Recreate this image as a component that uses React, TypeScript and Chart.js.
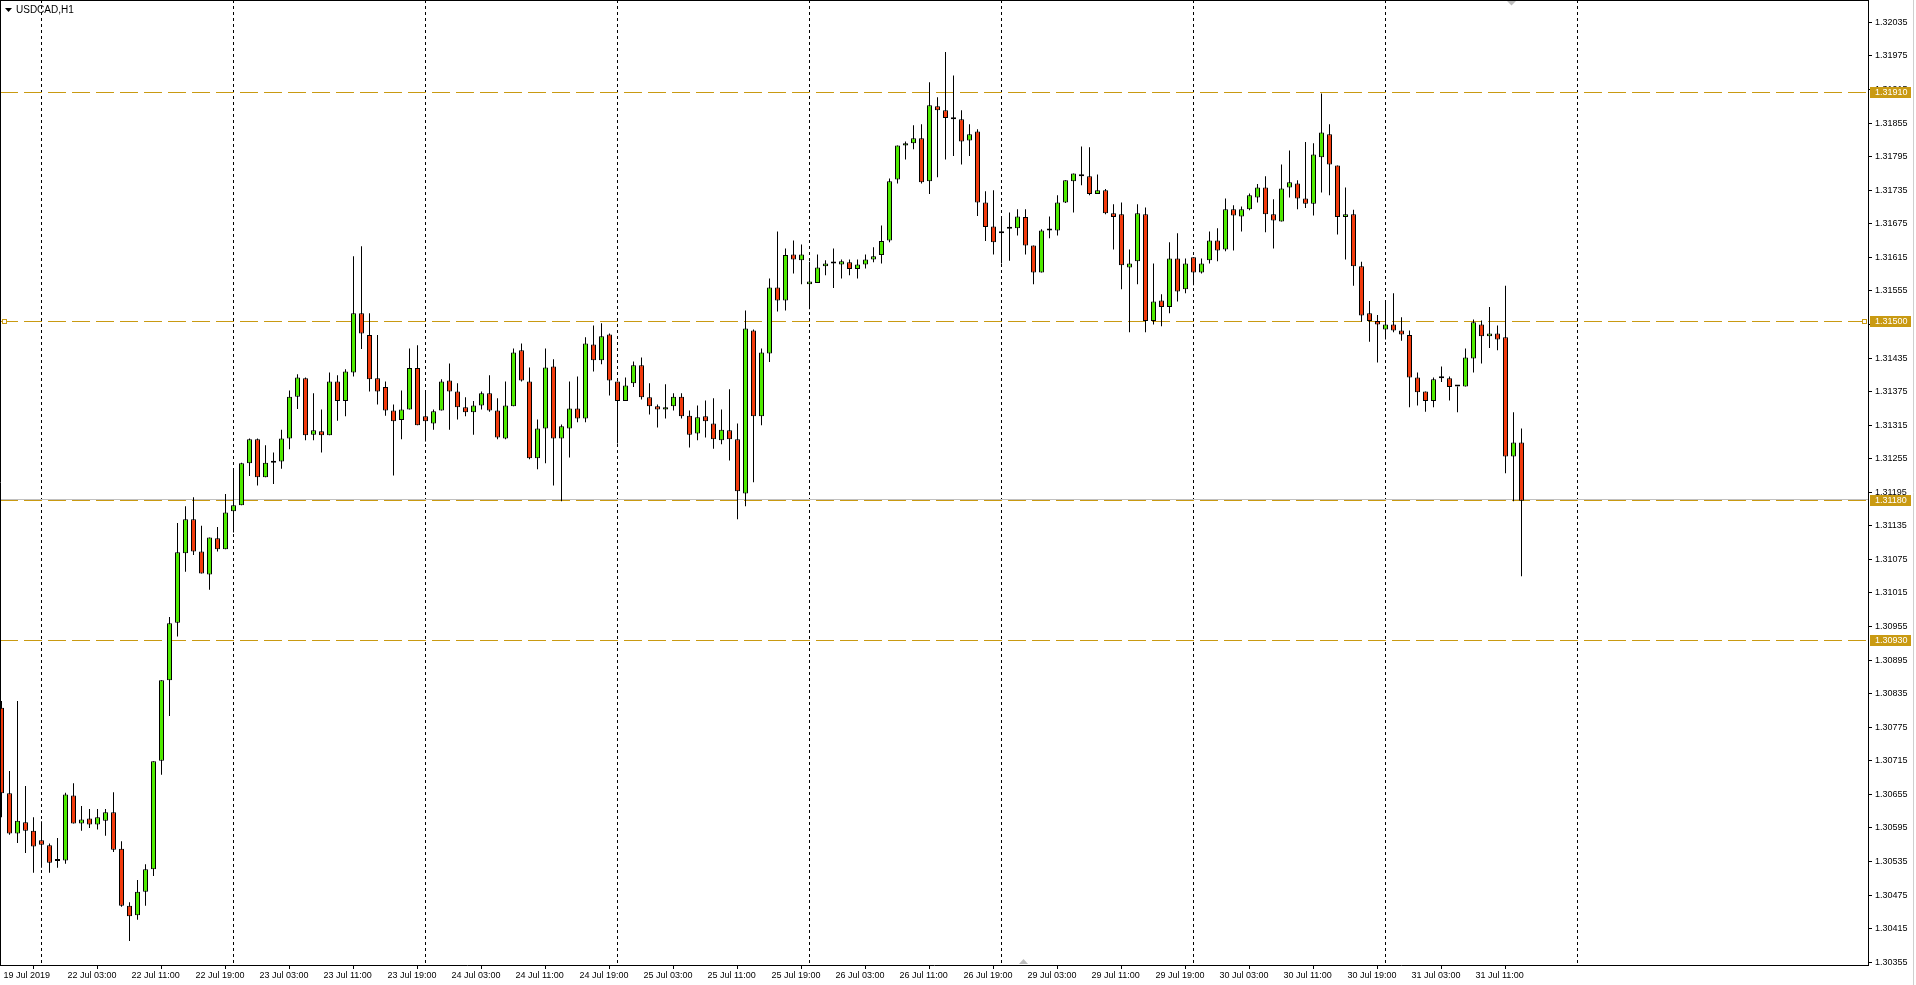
import React, { useEffect, useRef } from "react";
import { Chart, registerables } from "chart.js";

Chart.register(...registerables);

const symbolTitle = "USDCAD,H1";

const xTickLabels = [
  "19 Jul 2019", "22 Jul 03:00", "22 Jul 11:00", "22 Jul 19:00", "23 Jul 03:00", "23 Jul 11:00",
  "23 Jul 19:00", "24 Jul 03:00", "24 Jul 11:00", "24 Jul 19:00", "25 Jul 03:00", "25 Jul 11:00",
  "25 Jul 19:00", "26 Jul 03:00", "26 Jul 11:00", "26 Jul 19:00", "29 Jul 03:00", "29 Jul 11:00",
  "29 Jul 19:00", "30 Jul 03:00", "30 Jul 11:00", "30 Jul 19:00", "31 Jul 03:00", "31 Jul 11:00",
];
const barsPerLabel = 8;

// bar indices where a new trading day starts (dotted separators)
const daySeparatorBars = [5, 29, 53, 77, 101, 125, 149, 173, 197];

const yTickValues = [
  1.30355, 1.30415, 1.30475, 1.30535, 1.30595, 1.30655, 1.30715, 1.30775, 1.30835, 1.30895,
  1.30955, 1.31015, 1.31075, 1.31135, 1.31195, 1.31255, 1.31315, 1.31375, 1.31435, 1.31495,
  1.31555, 1.31615, 1.31675, 1.31735, 1.31795, 1.31855, 1.31915, 1.31975, 1.32035,
];

const levelPrices = [1.3191, 1.315, 1.3118, 1.3093];
const selectedLevel = 1.315;

const opens = [
  1.30810, 1.30657, 1.30585, 1.30605, 1.30590, 1.30573, 1.30564, 1.30536, 1.30537, 1.30653,
  1.30603, 1.30612, 1.30601, 1.30608, 1.30623, 1.30558, 1.30456, 1.30439, 1.30481, 1.30521,
  1.30715, 1.30859, 1.30962, 1.31086, 1.31147, 1.31089, 1.31048, 1.31113, 1.31093, 1.31161,
  1.31172, 1.31247, 1.31290, 1.31222, 1.31248, 1.31250, 1.31291, 1.31366, 1.31399, 1.31298,
  1.31304, 1.31297, 1.31393, 1.31358, 1.31409, 1.31515, 1.31476, 1.31399, 1.31383, 1.31341,
  1.31324, 1.31343, 1.31417, 1.31331, 1.31318, 1.31341, 1.31395, 1.31375, 1.31347, 1.31338,
  1.31350, 1.31372, 1.31341, 1.31291, 1.31349, 1.31449, 1.31393, 1.31256, 1.31309, 1.31420,
  1.31291, 1.31309, 1.31345, 1.31327, 1.31459, 1.31431, 1.31477, 1.31393, 1.31358, 1.31390,
  1.31422, 1.31365, 1.31349, 1.31343, 1.31349, 1.31366, 1.31332, 1.31300, 1.31331, 1.31318,
  1.31288, 1.31306, 1.31290, 1.31193, 1.31484, 1.31331, 1.31443, 1.31561, 1.31538, 1.31620,
  1.31610, 1.31567, 1.31569, 1.31599, 1.31604, 1.31602, 1.31606, 1.31594, 1.31602, 1.31611,
  1.31619, 1.31645, 1.31754, 1.31815, 1.31819, 1.31828, 1.31751, 1.31885, 1.31878, 1.31862,
  1.31862, 1.31824, 1.31840, 1.31713, 1.31670, 1.31658, 1.31666, 1.31667, 1.31687, 1.31636,
  1.31588, 1.31663, 1.31663, 1.31713, 1.31751, 1.31763, 1.31760, 1.31728, 1.31735, 1.31694,
  1.31692, 1.31597, 1.31608, 1.31692, 1.31501, 1.31538, 1.31526, 1.31613, 1.31558, 1.31615,
  1.31588, 1.31610, 1.31645, 1.31629, 1.31701, 1.31688, 1.31701, 1.31722, 1.31740, 1.31692,
  1.31679, 1.31740, 1.31747, 1.31720, 1.31711, 1.31794, 1.31835, 1.31779, 1.31687, 1.31692,
  1.31599, 1.31515, 1.31501, 1.31486, 1.31495, 1.31484, 1.31476, 1.31400, 1.31375, 1.31358,
  1.31399, 1.31399, 1.31384, 1.31384, 1.31434, 1.31495, 1.31474, 1.31479, 1.31472, 1.31259,
  1.31284,
];

const highs = [
  1.30822, 1.30697, 1.30822, 1.30670, 1.30614, 1.30607, 1.30567, 1.30577, 1.30658, 1.30675,
  1.30634, 1.30629, 1.30629, 1.30629, 1.30659, 1.30571, 1.30462, 1.30502, 1.30530, 1.30714,
  1.30859, 1.30972, 1.31140, 1.31170, 1.31186, 1.31135, 1.31114, 1.31133, 1.31192, 1.31236,
  1.31248, 1.31291, 1.31291, 1.31279, 1.31266, 1.31307, 1.31377, 1.31406, 1.31400, 1.31372,
  1.31343, 1.31409, 1.31404, 1.31415, 1.31617, 1.31635, 1.31515, 1.31476, 1.31393, 1.31352,
  1.31377, 1.31452, 1.31458, 1.31375, 1.31343, 1.31397, 1.31425, 1.31390, 1.31365, 1.31358,
  1.31375, 1.31404, 1.31363, 1.31393, 1.31452, 1.31461, 1.31418, 1.31325, 1.31452, 1.31433,
  1.31316, 1.31393, 1.31402, 1.31472, 1.31493, 1.31497, 1.31479, 1.31393, 1.31400, 1.31429,
  1.31436, 1.31390, 1.31352, 1.31388, 1.31372, 1.31372, 1.31341, 1.31350, 1.31359, 1.31363,
  1.31343, 1.31379, 1.31318, 1.31520, 1.31486, 1.31452, 1.31577, 1.31661, 1.31631, 1.31645,
  1.31638, 1.31607, 1.31620, 1.31610, 1.31631, 1.31611, 1.31611, 1.31611, 1.31620, 1.31633,
  1.31672, 1.31756, 1.31815, 1.31822, 1.31851, 1.31853, 1.31928, 1.31901, 1.31982, 1.31940,
  1.31878, 1.31853, 1.31844, 1.31733, 1.31735, 1.31687, 1.31695, 1.31701, 1.31701, 1.31636,
  1.31665, 1.31688, 1.31726, 1.31753, 1.31765, 1.31813, 1.31812, 1.31763, 1.31737, 1.31710,
  1.31713, 1.31629, 1.31710, 1.31704, 1.31604, 1.31549, 1.31642, 1.31658, 1.31613, 1.31615,
  1.31613, 1.31661, 1.31667, 1.31720, 1.31708, 1.31706, 1.31729, 1.31746, 1.31760, 1.31719,
  1.31781, 1.31806, 1.31753, 1.31821, 1.31819, 1.31908, 1.31853, 1.31779, 1.31740, 1.31700,
  1.31607, 1.31537, 1.31512, 1.31536, 1.31551, 1.31508, 1.31484, 1.31409, 1.31375, 1.31400,
  1.31420, 1.31402, 1.31384, 1.31452, 1.31504, 1.31502, 1.31526, 1.31493, 1.31564, 1.31338,
  1.31309,
];

const lows = [
  1.30614, 1.30583, 1.30568, 1.30550, 1.30515, 1.30524, 1.30515, 1.30524, 1.30531, 1.30603,
  1.30590, 1.30595, 1.30592, 1.30581, 1.30552, 1.30454, 1.30393, 1.30431, 1.30456, 1.30509,
  1.30690, 1.30795, 1.30937, 1.31053, 1.31083, 1.31050, 1.31021, 1.31089, 1.31093, 1.31123,
  1.31172, 1.31224, 1.31207, 1.31222, 1.31210, 1.31237, 1.31272, 1.31344, 1.31288, 1.31288,
  1.31266, 1.31297, 1.31323, 1.31331, 1.31402, 1.31451, 1.31375, 1.31352, 1.31332, 1.31225,
  1.31290, 1.31343, 1.31315, 1.31286, 1.31307, 1.31341, 1.31307, 1.31325, 1.31331, 1.31298,
  1.31343, 1.31339, 1.31290, 1.31290, 1.31349, 1.31393, 1.31254, 1.31236, 1.31247, 1.31207,
  1.31179, 1.31257, 1.31320, 1.31320, 1.31411, 1.31424, 1.31368, 1.31282, 1.31358, 1.31383,
  1.31361, 1.31334, 1.31311, 1.31327, 1.31341, 1.31327, 1.31275, 1.31288, 1.31293, 1.31273,
  1.31281, 1.31252, 1.31147, 1.31170, 1.31213, 1.31315, 1.31428, 1.31518, 1.31520, 1.31586,
  1.31567, 1.31522, 1.31569, 1.31583, 1.31560, 1.31577, 1.31583, 1.31577, 1.31595, 1.31606,
  1.31604, 1.31642, 1.31747, 1.31790, 1.31808, 1.31747, 1.31728, 1.31758, 1.31790, 1.31796,
  1.31781, 1.31796, 1.31689, 1.31644, 1.31620, 1.31604, 1.31609, 1.31654, 1.31620, 1.31567,
  1.31588, 1.31649, 1.31654, 1.31712, 1.31695, 1.31744, 1.31726, 1.31728, 1.31692, 1.31629,
  1.31558, 1.31481, 1.31567, 1.31481, 1.31495, 1.31492, 1.31515, 1.31536, 1.31551, 1.31565,
  1.31586, 1.31604, 1.31608, 1.31626, 1.31627, 1.31661, 1.31699, 1.31713, 1.31660, 1.31631,
  1.31679, 1.31722, 1.31701, 1.31703, 1.31690, 1.31731, 1.31726, 1.31656, 1.31611, 1.31564,
  1.31500, 1.31464, 1.31427, 1.31468, 1.31481, 1.31466, 1.31347, 1.31350, 1.31339, 1.31347,
  1.31392, 1.31359, 1.31338, 1.31384, 1.31409, 1.31425, 1.31453, 1.31449, 1.31229, 1.31179,
  1.31045,
];

const closes = [
  1.30657, 1.30585, 1.30608, 1.30590, 1.30562, 1.30565, 1.30533, 1.30536, 1.30655, 1.30603,
  1.30610, 1.30601, 1.30614, 1.30623, 1.30556, 1.30456, 1.30437, 1.30481, 1.30521, 1.30714,
  1.30859, 1.30961, 1.31088, 1.31147, 1.31089, 1.31050, 1.31114, 1.31093, 1.31159, 1.31172,
  1.31247, 1.31290, 1.31222, 1.31248, 1.31248, 1.31291, 1.31366, 1.31400, 1.31297, 1.31306,
  1.31297, 1.31393, 1.31358, 1.31411, 1.31515, 1.31479, 1.31397, 1.31375, 1.31341, 1.31322,
  1.31343, 1.31417, 1.31315, 1.31322, 1.31340, 1.31393, 1.31375, 1.31347, 1.31338, 1.31350,
  1.31372, 1.31341, 1.31293, 1.31350, 1.31445, 1.31395, 1.31256, 1.31309, 1.31418, 1.31291,
  1.31313, 1.31345, 1.31327, 1.31461, 1.31431, 1.31474, 1.31395, 1.31358, 1.31386, 1.31422,
  1.31365, 1.31349, 1.31343, 1.31347, 1.31366, 1.31331, 1.31298, 1.31329, 1.31322, 1.31290,
  1.31307, 1.31290, 1.31197, 1.31488, 1.31331, 1.31445, 1.31561, 1.31538, 1.31619, 1.31611,
  1.31620, 1.31572, 1.31597, 1.31604, 1.31604, 1.31608, 1.31594, 1.31602, 1.31611, 1.31617,
  1.31644, 1.31751, 1.31815, 1.31819, 1.31828, 1.31749, 1.31887, 1.31878, 1.31864, 1.31862,
  1.31822, 1.31835, 1.31713, 1.31669, 1.31642, 1.31658, 1.31669, 1.31688, 1.31636, 1.31588,
  1.31663, 1.31663, 1.31713, 1.31753, 1.31765, 1.31760, 1.31728, 1.31735, 1.31694, 1.31687,
  1.31601, 1.31604, 1.31694, 1.31501, 1.31536, 1.31526, 1.31613, 1.31554, 1.31604, 1.31588,
  1.31604, 1.31645, 1.31627, 1.31701, 1.31690, 1.31701, 1.31726, 1.31740, 1.31692, 1.31681,
  1.31738, 1.31749, 1.31720, 1.31711, 1.31799, 1.31838, 1.31781, 1.31687, 1.31692, 1.31599,
  1.31511, 1.31501, 1.31495, 1.31495, 1.31484, 1.31477, 1.31400, 1.31374, 1.31358, 1.31397,
  1.31399, 1.31383, 1.31384, 1.31436, 1.31499, 1.31474, 1.31479, 1.31468, 1.31259, 1.31284,
  1.31180,
];

const BULL = "#4FEA00";
const BEAR = "#F23A0C";
const GOLD = "#C99A12";
const FONT = '"Liberation Sans", Arial, sans-serif';

const mt4Overlay = {
  id: "mt4Overlay",
  beforeDatasetsDraw(chart: any) {
    const { ctx, chartArea: a, scales } = chart;
    const xs = scales.x;
    const ys = scales.y;
    ctx.save();
    ctx.beginPath();
    ctx.rect(a.left, a.top, a.right - a.left, a.bottom - a.top);
    ctx.clip();
    // day separators
    ctx.strokeStyle = "#000";
    ctx.lineWidth = 1;
    ctx.setLineDash([3, 3]);
    for (const b of daySeparatorBars) {
      const px = Math.floor(xs.getPixelForValue(b)) + 0.5;
      ctx.beginPath();
      ctx.moveTo(px, a.top);
      ctx.lineTo(px, a.bottom);
      ctx.stroke();
    }
    // bid line
    const bid = closes[closes.length - 1];
    const by = Math.floor(ys.getPixelForValue(bid)) - 0.5;
    ctx.setLineDash([]);
    ctx.strokeStyle = "#C0C0C0";
    ctx.beginPath();
    ctx.moveTo(a.left, by);
    ctx.lineTo(a.right, by);
    ctx.stroke();
    // horizontal levels
    ctx.strokeStyle = GOLD;
    ctx.setLineDash([18, 6]);
    for (const p of levelPrices) {
      const py = Math.floor(ys.getPixelForValue(p)) + 0.5;
      ctx.beginPath();
      ctx.moveTo(a.left, py);
      ctx.lineTo(a.right, py);
      ctx.stroke();
    }
    ctx.restore();
  },
  afterDraw(chart: any) {
    const { ctx, chartArea: a, scales, width, height } = chart;
    const ys = scales.y;
    ctx.save();
    // frame
    ctx.strokeStyle = "#000";
    ctx.lineWidth = 1;
    ctx.beginPath();
    ctx.moveTo(0.5, 0);
    ctx.lineTo(0.5, a.bottom);
    ctx.moveTo(0, 0.5);
    ctx.lineTo(a.right, 0.5);
    ctx.stroke();
    ctx.strokeStyle = "#CFCFCF";
    ctx.beginPath();
    ctx.moveTo(width - 2.5, 0);
    ctx.lineTo(width - 2.5, height);
    ctx.stroke();
    // selected-line handles
    const sy = Math.floor(ys.getPixelForValue(selectedLevel)) + 0.5;
    ctx.fillStyle = "#fff";
    ctx.strokeStyle = GOLD;
    for (const hx of [2.5, a.right - 5.5]) {
      ctx.fillRect(hx, sy - 2, 4, 4);
      ctx.strokeRect(hx, sy - 2, 4, 4);
    }
    // price labels
    ctx.font = `9px ${FONT}`;
    ctx.textBaseline = "middle";
    ctx.textAlign = "left";
    for (const p of levelPrices) {
      const py = Math.floor(ys.getPixelForValue(p));
      ctx.fillStyle = GOLD;
      ctx.fillRect(a.right + 2, py - 5, 41, 11);
      ctx.fillStyle = "#fff";
      ctx.fillText(p.toFixed(5), a.right + 7, py + 0.5);
    }
    // chart shift markers
    ctx.fillStyle = "#BDBDBD";
    ctx.beginPath();
    ctx.moveTo(1507, 1);
    ctx.lineTo(1516, 1);
    ctx.lineTo(1511.5, 5.5);
    ctx.closePath();
    ctx.fill();
    ctx.beginPath();
    ctx.moveTo(1019, a.bottom - 1);
    ctx.lineTo(1028, a.bottom - 1);
    ctx.lineTo(1023.5, a.bottom - 6);
    ctx.closePath();
    ctx.fill();
    // title
    ctx.fillStyle = "#000";
    ctx.beginPath();
    ctx.moveTo(5, 8);
    ctx.lineTo(12, 8);
    ctx.lineTo(8.5, 12);
    ctx.closePath();
    ctx.fill();
    ctx.font = `10px ${FONT}`;
    ctx.fillText(symbolTitle, 16, 10.5);
    ctx.restore();
  },
};

export default function App() {
  const ref = useRef<HTMLCanvasElement>(null);

  useEffect(() => {
    const canvas = ref.current;
    if (!canvas) return;
    const idx = closes.map((_, i) => i);
    const chart = new Chart(canvas, {
      type: "bar",
      data: {
        datasets: [
          {
            label: "wick",
            data: idx.map((i) => ({ x: i, y: [lows[i], highs[i]] })) as any,
            backgroundColor: "#000",
            borderWidth: 0,
            barThickness: 1,
            grouped: false,
            inflateAmount: 0,
            order: 2,
          } as any,
          {
            label: "body",
            data: idx.map((i) => ({ x: i, y: [opens[i], closes[i]] })) as any,
            backgroundColor: idx.map((i) => (closes[i] >= opens[i] ? BULL : BEAR)),
            borderColor: "#000",
            borderWidth: 1,
            borderSkipped: false,
            barThickness: 5,
            minBarLength: 2,
            grouped: false,
            inflateAmount: 0,
            order: 1,
          } as any,
        ],
      },
      options: {
        animation: false,
        responsive: false,
        maintainAspectRatio: false,
        events: [],
        layout: { padding: 0 },
        plugins: {
          legend: { display: false },
          tooltip: { enabled: false },
          title: { display: false },
        },
        scales: {
          x: {
            type: "linear",
            min: -0.1875,
            max: 233.3125,
            offset: false,
            position: "bottom",
            grid: {
              display: true,
              drawOnChartArea: false,
              drawTicks: true,
              tickLength: 4,
              color: "#000",
              lineWidth: 1,
            },
            border: { display: true, color: "#000", width: 1 },
            afterBuildTicks: (s: any) => {
              s.ticks = xTickLabels.map((_, i) => ({ value: i * barsPerLabel }));
            },
            afterFit: (s: any) => {
              s.height = 20;
              s.paddingLeft = 0;
              s.paddingRight = 0;
            },
            ticks: {
              autoSkip: false,
              maxRotation: 0,
              minRotation: 0,
              align: "start",
              labelOffset: 2,
              padding: 1,
              color: "#000",
              font: { family: FONT, size: 9 },
              callback: (_v: any, i: number) => xTickLabels[i],
            },
          } as any,
          y: {
            type: "linear",
            position: "right",
            min: 1.3035,
            max: 1.32075,
            grid: {
              display: true,
              drawOnChartArea: false,
              drawTicks: true,
              tickLength: 4,
              color: "#000",
              lineWidth: 1,
            },
            border: { display: true, color: "#000", width: 1 },
            afterBuildTicks: (s: any) => {
              s.ticks = yTickValues.map((v) => ({ value: v }));
            },
            afterFit: (s: any) => {
              s.width = 48;
              s.paddingTop = 0;
              s.paddingBottom = 0;
            },
            ticks: {
              padding: 3,
              color: "#000",
              font: { family: FONT, size: 9 },
              callback: (v: any) => Number(v).toFixed(5),
            },
          } as any,
        },
      },
      plugins: [mt4Overlay],
    });
    return () => chart.destroy();
  }, []);

  return (
    <div style={{ position: "fixed", left: 0, top: 0, width: 1916, height: 985, background: "#fff" }}>
      <canvas ref={ref} width={1916} height={985} style={{ display: "block", width: 1916, height: 985 }} />
    </div>
  );
}
